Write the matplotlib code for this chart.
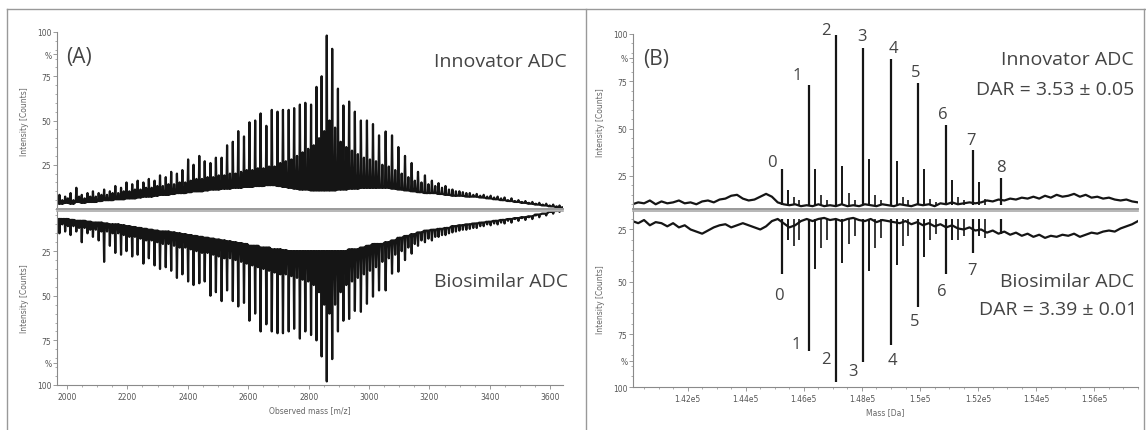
import numpy as np
import matplotlib.pyplot as plt
from matplotlib.lines import Line2D
from matplotlib.ticker import FixedLocator, MultipleLocator

W, H = 1146, 431

# ---------------- Panel A : native MS, m/z comb ----------------
mz_peaks = [1975, 1994, 2012, 2031, 2049, 2068, 2086, 2105, 2123, 2142,
            2160, 2179, 2197, 2216, 2234, 2253, 2271, 2290, 2308, 2327,
            2345, 2364, 2382, 2401, 2419, 2438, 2456, 2475, 2493, 2512,
            2530, 2549, 2567, 2586, 2604, 2623, 2641, 2660, 2678, 2697,
            2715, 2734, 2752, 2771, 2789, 2808, 2826, 2843, 2860, 2878,
            2897, 2915, 2934, 2953, 2973, 2993, 3013, 3033, 3055, 3076,
            3097, 3119, 3141, 3162, 3185, 3208, 3230, 3253, 3276, 3299,
            3322, 3345, 3368, 3391, 3414, 3437, 3460, 3483, 3506, 3529,
            3552, 3575, 3598, 3621, 3640]

inn_apex = [8, 7, 9, 12, 8, 9, 10, 9, 11, 10,
            13, 12, 15, 14, 16, 15, 17, 16, 19, 18,
            21, 20, 22, 28, 25, 30, 27, 26, 29, 29,
            36, 38, 44, 41, 49, 50, 54, 47, 56, 55,
            56, 56, 57, 59, 60, 59, 69, 75, 98, 90.5,
            68, 58.5, 60.7, 55, 50, 50, 48, 41.6, 43.8, 41.6,
            35, 30, 26, 21, 19, 16, 14.6, 13, 11, 10,
            9, 8, 7.5, 7, 6.5, 6, 5, 4.5, 4, 3.5,
            3, 2.5, 2, 1.5, 1]
inn_floor = [3, 3.5, 3, 4, 3.5, 4, 4, 4.5, 5, 5,
             5.5, 5.5, 6, 6, 6.5, 7, 7, 7.5, 8, 8,
             8.5, 9, 9, 9.5, 10, 10, 10.5, 11, 11, 11.5,
             11.5, 12, 12, 12.5, 12.5, 13, 13, 13.5, 13.5, 13,
             12.5, 12, 11.5, 11, 11, 10.5, 10.5, 10.5, 10.5, 10.5,
             11, 11, 11.5, 11.5, 12, 12, 12, 12, 12, 11.5,
             11, 10.5, 10, 9.5, 9, 9, 8.5, 8, 7.5, 7.5,
             7, 7, 6.5, 6, 5.5, 5, 4.5, 4, 3.5, 3,
             2.5, 2, 1.5, 1, 0.5]
inn_mid = [5, 6, 5, 7, 6, 7, 7, 8, 8, 9,
           9, 10, 10, 11, 11, 12, 12, 13, 13, 14,
           14, 15, 15, 16, 17, 17, 18, 18, 19, 19,
           20, 20, 21, 22, 22, 23, 23, 24, 24, 26,
           27, 28, 30, 32, 34, 36, 40, 44, 50, 46,
           38, 35, 33, 31, 29, 28, 27, 25, 24, 22,
           20, 18, 16, 15, 14, 13, 12, 11, 10, 9.5,
           9, 8.5, 8, 7.5, 7, 6.5, 6, 5, 4.5, 4,
           3.5, 3, 2.5, 2, 1.5]

bio_apex = [15, 14, 16, 14, 20, 15, 17, 19, 31, 22,
            26, 27, 25, 28, 27, 32, 29, 33, 35, 34,
            36, 40, 38, 42, 44, 43, 42, 50, 48, 53,
            47, 53, 56, 54, 64, 60, 70, 66, 70, 71,
            71, 70, 68.5, 74, 70, 72, 75, 84, 98, 85.5,
            70, 64, 63, 58.5, 59, 54.5, 50.5, 47, 47, 37.6,
            36.5, 30, 26.4, 22, 20, 19, 17, 16, 14.5, 13.5,
            13, 12, 11, 10, 9.5, 9, 8, 7, 6.5, 6,
            5, 4, 3, 2.5, 2]
bio_floor = [7, 7, 7.5, 8, 8, 8.5, 9, 9, 9.5, 10,
             10, 10.5, 11, 11.5, 12, 12.5, 13, 13.5, 14, 14,
             14.5, 15, 15.5, 16, 16.5, 17, 17.5, 18, 18.5, 19,
             19.5, 20, 20.5, 21, 22, 22, 23, 23, 24, 24,
             24.5, 25, 25, 25, 25, 25, 25, 25, 25, 25,
             25, 25, 24, 24, 23, 22, 21, 21, 20, 19,
             17.5, 16.5, 15.5, 14.5, 13.5, 13, 12.5, 12, 11, 10.5,
             10, 9.5, 9, 8.5, 8, 7.5, 7, 6.5, 6, 5.5,
             4.5, 4, 3, 2, 1]
bio_mid = [10, 11, 11, 12, 12, 13, 13, 14, 14, 15,
           15, 16, 17, 17, 18, 19, 19, 20, 21, 21,
           22, 23, 23, 24, 25, 26, 26, 27, 28, 29,
           29, 30, 31, 32, 33, 34, 35, 36, 37, 38,
           38, 39, 40, 41, 42, 44, 48, 55, 60, 55,
           48, 44, 42, 40, 38, 36, 34, 31, 29, 27,
           25, 23, 21, 19, 18, 17, 16, 15, 14, 13,
           12.5, 12, 11, 10.5, 10, 9.5, 9, 8, 7.5, 7,
           6, 5, 4, 3, 1.5]

# ---------------- Panel B : deconvoluted mass ----------------
noise_mass = np.arange(140100, 157501, 200)
inn_noise = [10, 11, 10.5, 12, 10, 11.5, 10.5, 11, 12, 10.5, 11, 10, 11.5, 12, 11,
             12.5, 13, 14.5, 15, 13, 12, 12.5, 14, 15.5, 14, 11, 10, 9.5, 10, 9,
             9.5, 9, 10, 9, 9.5, 9, 10, 9, 9.5, 9, 10, 9.5, 9, 10, 9.5,
             9, 10, 9.5, 9, 10, 9.5, 10, 9, 10.5, 10, 11, 10, 10.5, 11, 10.5,
             11, 12, 11.5, 12.5, 12, 13, 12.5, 13.5, 13, 14, 13, 14.5, 13.5, 15, 14,
             14.5, 15.5, 14, 15, 13.5, 14, 13, 13.5, 12.5, 12, 12.5, 11.5, 11]
bio_noise = [21, 22, 20.5, 23, 21.5, 22, 23.5, 22, 24, 23, 25, 26, 27, 25.5, 24,
             23, 22.5, 24, 23, 22, 23, 24, 25, 23.5, 21, 20, 22, 24, 23, 21,
             20, 21, 20, 19.5, 20.5, 20, 21, 20, 19.5, 20.5, 21, 20, 21.5, 20.5, 21,
             21.5, 22, 21, 22.5, 21.5, 23, 22, 23.5, 22.5, 24, 23, 24.5, 25, 24, 25.5,
             25, 26.5, 25.5, 27, 26, 27.5, 26.5, 28, 27, 28.5, 27.5, 29, 28, 28.5, 27.5,
             28, 27, 28.5, 27.5, 26.5, 27, 26, 25.5, 26, 24.5, 23.5, 22.5, 21]

dar_mass = [145250, 146170, 147090, 148050, 149010, 149930, 150890, 151810, 152770]
dar_labels = ['0', '1', '2', '3', '4', '5', '6', '7', '8']
inn_dar = [28.7, 73, 99.5, 92.6, 86.8, 74, 52, 38.7, 24]
bio_dar = [46.4, 83, 97.8, 88, 80, 62, 46.4, 36, 27]

side_mass = [145450, 146400, 147330, 148250, 149200, 150130, 151090, 152030]
inn_side = [17.6, 28.7, 30, 34, 33, 28.7, 23, 22]
bio_side = [30, 43.6, 41, 45, 41.7, 38, 30, 28]

minor_mass = [145650, 145850, 146600, 146800, 147550, 147750, 148450, 148650,
              149400, 149600, 150350, 150550, 151300, 151500, 152250]
inn_minor = [14, 12, 15, 12, 16, 12, 15, 12, 14, 12, 13, 11, 14, 12, 13]
bio_minor = [33, 30, 34, 30, 32, 28, 34, 29, 33, 28, 30, 27, 30, 28, 29]

INK = '#151515'
GREY = '#8a8a8a'
TXT = '#444444'
plt.rcParams['font.family'] = ['Open Sans', 'DejaVu Sans']


def px_axes(x0, x1, ytop, ybot):
    return [x0 / W, 1 - ybot / H, (x1 - x0) / W, (ybot - ytop) / H]


def comb(pos, apex, floor, mid):
    # spike at each peak, smaller spike half way to the next one
    pos = np.asarray(pos, float)
    step = np.append(np.diff(pos), np.diff(pos)[-1])
    xs, ys = [], []
    for p, a, f, m, s in zip(pos, apex, floor, mid, step):
        xs += [p - 0.1 * s, p, p + 0.1 * s, p + 0.42 * s, p + 0.5 * s, p + 0.58 * s]
        ys += [f, a, f, f, m, f]
    return xs, ys


def style_y(ax, top):
    ax.yaxis.set_major_locator(FixedLocator([25, 50, 75, 87.5, 100]))
    ax.set_yticklabels(['25', '50', '75', '%', '100'])
    ax.yaxis.set_minor_locator(MultipleLocator(5))
    ax.tick_params(axis='y', which='major', length=3, width=0.6, color=GREY,
                   labelsize=5.5, labelcolor='#555', pad=1)
    ax.tick_params(axis='y', which='minor', length=1.5, width=0.5, color=GREY)
    ax.set_ylabel('Intensity [Counts]', fontsize=5.5, color='#666', labelpad=6,
                  family='DejaVu Sans')
    for s in ['top', 'right']:
        ax.spines[s].set_visible(False)
    ax.spines['left'].set_color(GREY)
    ax.spines['left'].set_linewidth(0.8)
    if top:
        ax.spines['bottom'].set_color('#999')
        ax.spines['bottom'].set_linewidth(1.4)
        ax.set_xticks([])
    else:
        ax.spines['top'].set_visible(True)
        ax.spines['top'].set_color('#aaa')
        ax.spines['top'].set_linewidth(1.2)
        ax.spines['bottom'].set_color(GREY)
        ax.spines['bottom'].set_linewidth(0.8)
        ax.tick_params(axis='x', which='major', length=3, width=0.6, color=GREY,
                       labelsize=5.5, labelcolor='#555', pad=2)
        ax.tick_params(axis='x', which='minor', length=1.5, width=0.5, color=GREY)
    for lab in ax.get_yticklabels() + ax.get_xticklabels():
        lab.set_family('DejaVu Sans')


fig = plt.figure(figsize=(W / 100, H / 100), dpi=100)

# panel frames
for x0, y0, x1, y1 in [(7, 10, 1146, 10), (7, 10, 7, 431), (586, 10, 586, 431), (1144, 10, 1144, 431)]:
    fig.add_artist(Line2D([x0 / W, x1 / W], [1 - y0 / H, 1 - y1 / H], color='#999',
                          lw=1.0, transform=fig.transFigure))

# ---- A top
axA1 = fig.add_axes(px_axes(57, 563, 33, 210))
x, y = comb(mz_peaks, inn_apex, inn_floor, inn_mid)
axA1.plot(x, y, color=INK, lw=1.6)
axA1.set_xlim(1967, 3642)
axA1.set_ylim(0, 100)
style_y(axA1, True)

# ---- A bottom
axA2 = fig.add_axes(px_axes(57, 563, 212, 386))
x, y = comb(mz_peaks, bio_apex, bio_floor, bio_mid)
axA2.plot(x, y, color=INK, lw=1.6)
axA2.set_xlim(1967, 3642)
axA2.set_ylim(100, 2.5)
axA2.xaxis.set_major_locator(MultipleLocator(200))
axA2.xaxis.set_minor_locator(MultipleLocator(50))
axA2.set_xlabel('Observed mass [m/z]', fontsize=5.5, color='#666', labelpad=3,
                family='DejaVu Sans')
style_y(axA2, False)

# ---- B top
axB1 = fig.add_axes(px_axes(633, 1138, 35, 210))
axB1.plot(noise_mass, inn_noise, color=INK, lw=1.6)
axB1.vlines(dar_mass, 9.5, inn_dar, color=INK, lw=1.6)
axB1.vlines(side_mass, 9.5, inn_side, color=INK, lw=1.4)
axB1.vlines(minor_mass, 9.5, inn_minor, color=INK, lw=1.2)
axB1.set_xlim(140120, 157500)
axB1.set_ylim(7.5, 100)
style_y(axB1, True)
top_off = [(-10, 7), (-12, 10), (-10, 5), (-1, 12), (2, 11), (-2, 11), (-3, 11), (-2, 10), (0, 11)]
for m, h, t, o in zip(dar_mass, inn_dar, dar_labels, top_off):
    axB1.annotate(t, (m, h), xytext=o, textcoords='offset pixels', ha='center',
                  va='center', fontsize=12, color=TXT)

# ---- B bottom
axB2 = fig.add_axes(px_axes(633, 1138, 212, 388))
axB2.plot(noise_mass, bio_noise, color=INK, lw=1.6)
axB2.vlines(dar_mass, 20, bio_dar, color=INK, lw=1.6)
axB2.vlines(side_mass, 20, bio_side, color=INK, lw=1.4)
axB2.vlines(minor_mass, 20, bio_minor, color=INK, lw=1.2)
axB2.set_xlim(140120, 157500)
axB2.set_ylim(100, 16.2)
ticks = np.arange(142000, 157000, 2000)
axB2.set_xticks(ticks)
axB2.set_xticklabels(['%ge5' % (t / 1e5) for t in ticks])
axB2.xaxis.set_minor_locator(MultipleLocator(500))
axB2.set_xlabel('Mass [Da]', fontsize=5.5, color='#666', labelpad=3, family='DejaVu Sans')
style_y(axB2, False)
bot_off = [(-3, -21), (-13, 7), (-10, 23), (-10, -9), (1, -15), (-3, -14), (-4, -17), (-1, -17)]
for m, h, t, o in zip(dar_mass, bio_dar, dar_labels, bot_off):
    axB2.annotate(t, (m, h), xytext=o, textcoords='offset pixels', ha='center',
                  va='center', fontsize=12, color=TXT)

# ---- panel texts
def ftext(x, y, s, **kw):
    fig.text(x / W, 1 - y / H, s, color=TXT, va='center', **kw)

ftext(66, 58, '(A)', fontsize=15, ha='left')
ftext(643, 60, '(B)', fontsize=15, ha='left')
ftext(567, 62, 'Innovator ADC', fontsize=14, ha='right')
ftext(568, 282, 'Biosimilar ADC', fontsize=14, ha='right')
ftext(1134, 60, 'Innovator ADC', fontsize=14, ha='right')
ftext(1134, 90, 'DAR = 3.53 \u00b1 0.05', fontsize=14, ha='right')
ftext(1134, 282, 'Biosimilar ADC', fontsize=14, ha='right')
ftext(1137, 310, 'DAR = 3.39 \u00b1 0.01', fontsize=14, ha='right')

fig.savefig('out.png', dpi=100)
